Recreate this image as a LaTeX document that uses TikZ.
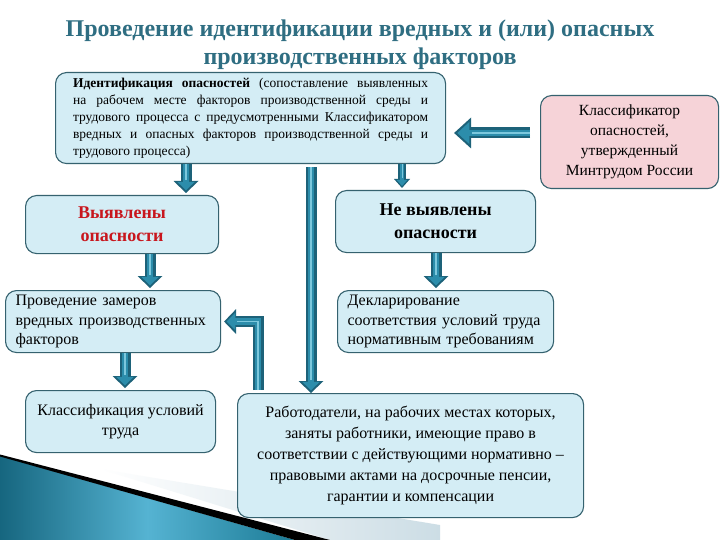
\documentclass[tikz,border=0pt]{standalone}
\usepackage{fontspec}
\setmainfont{Liberation Serif}
\usetikzlibrary{arrows.meta,calc}
\definecolor{boxfill}{HTML}{D4EDF5}
\definecolor{boxline}{HTML}{35626F}
\definecolor{pinkfill}{HTML}{F6D3D8}
\definecolor{titlecol}{HTML}{2F6E82}
\definecolor{arrdark}{HTML}{1D6279}
\definecolor{arrmid}{HTML}{2C8DAB}
\definecolor{arrlight}{HTML}{7CC8DD}
\definecolor{redtext}{HTML}{C8161D}
\definecolor{tealA}{HTML}{16667F}
\definecolor{tealB}{HTML}{55B3D2}
\definecolor{tealC}{HTML}{1C7B96}
\definecolor{wedge}{HTML}{CCDDE5}
\newcommand{\blockarrow}[2][]{%
  \draw[aout#1] #2;
  \draw[amid#1] #2;
  \draw[alight#1] #2;}
\begin{document}
\begin{tikzpicture}[x=1pt,y=-1pt,
  box/.style={draw=boxline, line width=1.1pt, fill=boxfill, rounded corners=11pt,
    anchor=north west, inner sep=0pt, align=center},
  aout/.style={draw=arrdark, line width=11pt,
    -{Triangle[width=25pt,length=12pt,line width=0pt]}},
  amid/.style={draw=arrmid, line width=6.5pt, shorten >=2.6pt,
    -{Triangle[width=17.5pt,length=8.6pt,line width=0pt]}},
  alight/.style={draw=arrlight, line width=1.3pt, shorten >=13pt},
  aouts/.style={draw=arrdark, line width=7.5pt,
    -{Triangle[width=16pt,length=9pt,line width=0pt]}},
  amids/.style={draw=arrmid, line width=4pt, shorten >=2pt,
    -{Triangle[width=10.5pt,length=6pt,line width=0pt]}},
  alights/.style={draw=arrlight, line width=1pt, shorten >=10pt},
  aoutb/.style={draw=arrdark, line width=11pt,
    -{Triangle[width=31pt,length=17pt,line width=0pt]}},
  amidb/.style={draw=arrmid, line width=6.5pt, shorten >=3.2pt,
    -{Triangle[width=22pt,length=12pt,line width=0pt]}},
  alightb/.style={draw=arrlight, line width=1.3pt, shorten >=18pt},
]
\useasboundingbox (0,0) rectangle (720,540);
\fill[white] (0,0) rectangle (720,540);

% decoration bottom-left
\shade[left color=white, right color=wedge] (100,469) -- (440,525) -- (440,540) -- (330,540) -- cycle;
\shade[left color=tealA, right color=tealC, middle color=tealB]
  (0,456) -- (295,540) -- (0,540) -- cycle;
\fill[black] (0,454.5) -- (330,540) -- (295,540) -- (0,456.5) -- cycle;

% title
\node[text=titlecol, font=\fontsize{24}{28}\selectfont\bfseries, align=center] (title)
  at (360,45) {Проведение идентификации вредных и (или) опасных\\производственных факторов};

% boxes
\node[box, minimum width=390pt, minimum height=91pt,
  font=\fontsize{13.5}{17}\selectfont] (ident) at (55,72)
  {\parbox{355pt}{\noindent{\bfseries Идентификация опасностей} (сопоставление выявленных\linebreak
   на рабочем месте факторов производственной среды и\linebreak
   трудового процесса с предусмотренными Классификатором\linebreak
   вредных и опасных факторов производственной среды и\linebreak
   трудового процесса)}};
\node[box, fill=pinkfill, minimum width=178pt, minimum height=93pt,
  font=\fontsize{15.5}{20}\selectfont] (klassif) at (540,95)
  {Классификатор\\опасностей,\\утвержденный\\Минтрудом России};
\node[box, minimum width=193pt, minimum height=58pt, text=redtext,
  font=\fontsize{18}{23}\selectfont\bfseries] (vyav) at (25,195)
  {Выявлены\\опасности};
\node[box, minimum width=200pt, minimum height=62pt,
  font=\fontsize{18}{23}\selectfont\bfseries] (nevyav) at (335,190)
  {Не выявлены\\опасности};
\node[box, minimum width=215pt, minimum height=62pt, align=left, inner xsep=10pt,
  text width=195pt, font=\fontsize{16}{19.5}\selectfont] (zam) at (5,290)
  {Проведение замеров\\вредных производственных\\факторов};
\node[box, minimum width=216pt, minimum height=62pt, align=left, inner xsep=10pt,
  text width=196pt, font=\fontsize{16}{19.5}\selectfont] (dekl) at (337,290)
  {Декларирование\\соответствия условий труда\\нормативным требованиям};
\node[box, minimum width=190pt, minimum height=62pt,
  font=\fontsize{16}{20}\selectfont] (klass) at (25,390)
  {Классификация условий\\труда};
\node[box, minimum width=346pt, minimum height=124pt,
  font=\fontsize{16}{21}\selectfont] (rab) at (237,393)
  {Работодатели, на рабочих местах которых,\\заняты работники, имеющие право в\\соответствии с действующими нормативно –\\правовыми актами на досрочные пенсии,\\гарантии и компенсации};

% arrow columns
\coordinate (cA) at (186,0);
\coordinate (cB) at (402,0);
\coordinate (cC) at (150,0);
\coordinate (cD) at (125,0);
\coordinate (cE) at (436,0);
\coordinate (cF) at (311,0);
\coordinate (cG) at (258,0);
\coordinate (rA) at (0,133);

% arrows
\blockarrow{(ident.south -| cA) -- ([yshift=2pt]vyav.north -| cA)}
\blockarrow[s]{(ident.south -| cB) -- ([yshift=2pt]nevyav.north -| cB)}
\blockarrow{(vyav.south -| cC) -- ([yshift=2pt]zam.north -| cC)}
\blockarrow{(zam.south -| cD) -- ([yshift=2pt]klass.north -| cD)}
\blockarrow{(nevyav.south -| cE) -- ([yshift=2pt]dekl.north -| cE)}
\blockarrow[b]{([xshift=-10pt]klassif.west |- rA) -- ([xshift=8pt]ident.east |- rA)}
\blockarrow{([yshift=-3pt]ident.south -| cF) -- (rab.north -| cF)}
\blockarrow{([yshift=3pt]rab.north -| cG) |- ([xshift=3pt]zam.east)}
\end{tikzpicture}
\end{document}
